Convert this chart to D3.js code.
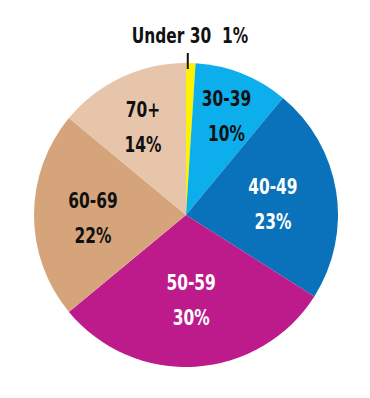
<!DOCTYPE html>
<html>
<head>
<meta charset="utf-8">
<script src="https://cdn.jsdelivr.net/npm/d3@7"></script>
<style>
  body { margin: 0; background: #fff; }
  text { font-family: "Liberation Sans Narrow", "DejaVu Sans Condensed", sans-serif; font-weight: bold; }
</style>
</head>
<body>
<div id="chart"></div>
<script>
// age groups, share of total (%)
var categories = ["Under 30", "30-39", "40-49", "50-59", "60-69", "70+"];
var shares = [1, 10, 23, 30, 22, 14];
var percentLabels = ["1%", "10%", "23%", "30%", "22%", "14%"];

(function drawPie () {
	var width = 370, height = 398;
	var cx = 186, cy = 215, radius = 152;
	var squeeze = 0.78; // narrow the font horizontally, original is a condensed face

	var colors = ["#fff200", "#0cafec", "#0a72ba", "#bd1b8c", "#d6a47b", "#e6c5aa"];
	var textColors = ["#111", "#111", "#fff", "#fff", "#111", "#111"];
	// label distance from center, tuned per slice to sit like the original
	var labelRadius = [0, 110, 88, 82, 93, 101];

	var data = categories.map(function(c, i) {
		return {cat: c, value: shares[i], pct: percentLabels[i], idx: i};
	});

	var svg = d3.select("#chart").append("svg")
		.attr("width", width)
		.attr("height", height);

	var g = svg.append("g")
		.attr("transform", "translate(" + cx + "," + cy + ")");

	var pie = d3.pie().sort(null).value(function(d) { return d.value; });
	var arc = d3.arc().innerRadius(0).outerRadius(radius);
	var arcs = pie(data);

	g.selectAll("path.slice")
		.data(arcs)
		.enter()
		.append("path")
		.attr("class", "slice")
		.attr("d", arc)
		.attr("fill", function(d) { return colors[d.data.idx]; });

	// inside labels (two lines)
	var inside = g.selectAll("g.lbl")
		.data(arcs.filter(function(d) { return d.data.idx > 0; }))
		.enter()
		.append("g")
		.attr("class", "lbl")
		.attr("transform", function(d) {
			var r = labelRadius[d.data.idx];
			var c = d3.arc().innerRadius(r).outerRadius(r).centroid(d);
			return "translate(" + c[0] + "," + c[1] + ") scale(" + squeeze + ",1)";
		});

	inside.append("text")
		.attr("text-anchor", "middle")
		.attr("y", -7)
		.attr("font-size", 22)
		.attr("fill", function(d) { return textColors[d.data.idx]; })
		.text(function(d) { return d.data.cat; });

	inside.append("text")
		.attr("text-anchor", "middle")
		.attr("y", 28)
		.attr("font-size", 22)
		.attr("fill", function(d) { return textColors[d.data.idx]; })
		.text(function(d) { return d.data.pct; });

	// outside label for the tiny slice
	var small = arcs[0];
	var mid = (small.startAngle + small.endAngle) / 2;
	var lx = Math.sin(mid) * radius - 3;

	g.append("line")
		.attr("x1", lx).attr("y1", -radius - 10)
		.attr("x2", lx).attr("y2", -radius + 6)
		.attr("stroke", "#111")
		.attr("stroke-width", 2);

	g.append("g")
		.attr("transform", "translate(" + 4 + "," + (-radius - 20) + ") scale(" + squeeze + ",1)")
		.append("text")
		.attr("text-anchor", "middle")
		.attr("font-size", 22)
		.attr("fill", "#111")
		.text(small.data.cat + "\u00a0\u00a0" + small.data.pct);
})();
</script>
</body>
</html>
